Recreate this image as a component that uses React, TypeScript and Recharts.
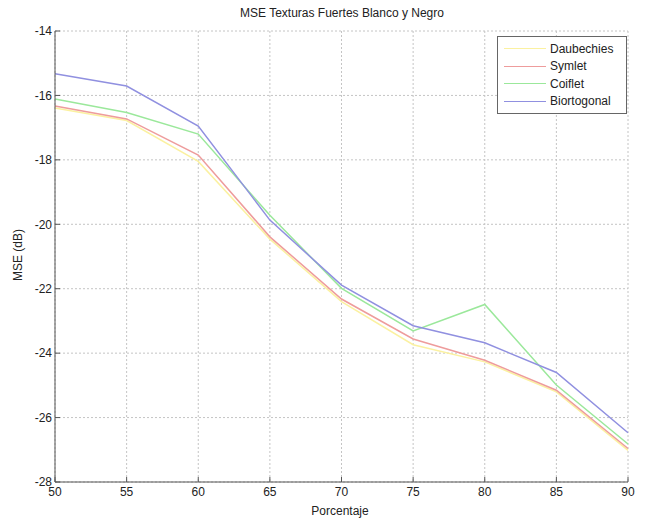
import { CartesianGrid, Legend, Line, LineChart, XAxis, YAxis } from "recharts"

// MSE (dB) vs porcentaje, texturas fuertes blanco y negro
const porcentaje = [50, 55, 60, 65, 70, 75, 80, 85, 90]
const daubechies = [-16.39, -16.78, -18.05, -20.46, -22.4, -23.74, -24.27, -25.2, -27.02]
const symlet = [-16.33, -16.73, -17.85, -20.39, -22.32, -23.56, -24.22, -25.15, -26.96]
const coiflet = [-16.11, -16.53, -17.2, -19.72, -21.99, -23.31, -22.49, -24.99, -26.82]
const biortogonal = [-15.33, -15.71, -16.95, -19.87, -21.89, -23.15, -23.68, -24.6, -26.47]

const xTicks = [50, 55, 60, 65, 70, 75, 80, 85, 90]
const yTicks = [-14, -16, -18, -20, -22, -24, -26, -28]

const series = [
  { key: "daubechies", name: "Daubechies", color: "#fbf1a0" },
  { key: "symlet", name: "Symlet", color: "#ee9c9c" },
  { key: "coiflet", name: "Coiflet", color: "#9be89b" },
  { key: "biortogonal", name: "Biortogonal", color: "#9090e0" },
]

const data = porcentaje.map((p, i) => ({
  p,
  daubechies: daubechies[i],
  symlet: symlet[i],
  coiflet: coiflet[i],
  biortogonal: biortogonal[i],
}))

const font = "'Liberation Sans', Arial, sans-serif"
const axisColor = "#555555"

function LegendBox() {
  return (
    <div
      style={{
        border: "1px solid #666",
        background: "#fff",
        padding: "3px 6px 3px 6px",
        width: 116,
        fontFamily: font,
        fontSize: 12,
        color: "#222",
      }}
    >
      {series.map((s) => (
        <div key={s.key} style={{ display: "flex", alignItems: "center", height: 17.5 }}>
          <div style={{ width: 42, height: 0, borderTop: `1.5px solid ${s.color}`, marginRight: 4 }} />
          <span>{s.name}</span>
        </div>
      ))}
    </div>
  )
}

export default function App() {
  return (
    <div style={{ position: "absolute", left: 0, top: 0, width: 646, height: 519, background: "#fff" }}>
      <LineChart
        width={646}
        height={519}
        data={data}
        margin={{ top: 31, right: 18, bottom: 17, left: 15 }}
        style={{ fontFamily: font }}
      >
        <text x={342} y={17} textAnchor="middle" fontSize={12} fill="#222" fontFamily={font}>
          MSE Texturas Fuertes Blanco y Negro
        </text>
        <text x={340} y={515} textAnchor="middle" fontSize={12} fill="#222" fontFamily={font}>
          Porcentaje
        </text>
        <text
          x={22}
          y={255}
          textAnchor="middle"
          fontSize={12}
          fill="#222"
          fontFamily={font}
          transform="rotate(-90 22 255)"
        >
          MSE (dB)
        </text>
        <CartesianGrid stroke="#c4c4c4" strokeDasharray="2 2" />
        <XAxis
          dataKey="p"
          type="number"
          domain={[50, 90]}
          ticks={xTicks}
          height={20}
          stroke={axisColor}
          tickSize={-5}
          tickMargin={10}
          tick={{ fill: "#222", fontSize: 12 }}
        />
        <XAxis
          xAxisId="top"
          dataKey="p"
          type="number"
          orientation="top"
          domain={[50, 90]}
          ticks={xTicks}
          height={0}
          stroke={axisColor}
          tickSize={-5}
          tick={false}
        />
        <YAxis
          type="number"
          domain={[-28, -14]}
          ticks={yTicks}
          width={40}
          stroke={axisColor}
          tickSize={-5}
          tickMargin={8}
          tick={{ fill: "#222", fontSize: 12 }}
        />
        <YAxis
          yAxisId="right"
          orientation="right"
          type="number"
          domain={[-28, -14]}
          ticks={yTicks}
          width={0}
          stroke={axisColor}
          tickSize={-5}
          tick={false}
        />
        <Legend
          layout="horizontal"
          verticalAlign="middle"
          align="center"
          wrapperStyle={{ top: 36, left: 497, width: 130 }}
          content={() => <LegendBox />}
        />
        {series.map((s) => (
          <Line
            key={s.key}
            dataKey={s.key}
            name={s.name}
            stroke={s.color}
            strokeWidth={1.5}
            dot={false}
            isAnimationActive={false}
          />
        ))}
      </LineChart>
    </div>
  )
}
